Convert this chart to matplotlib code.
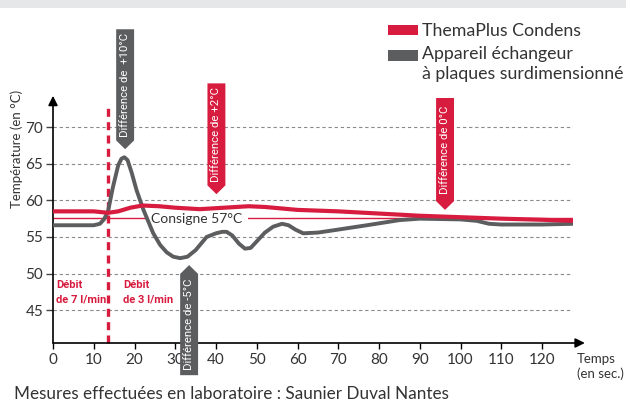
import matplotlib.pyplot as plt
from matplotlib.patches import Polygon, Rectangle

# data (time in s, temperature in °C)
thema_t = [0, 10, 13.5, 16, 19, 22, 26, 30, 36, 42, 48, 52, 60, 70, 80, 90, 100, 110, 120, 127.6]
thema_temp = [58.5, 58.5, 58.3, 58.5, 59.0, 59.3, 59.2, 59.0, 58.8, 59.0, 59.2, 59.1, 58.7, 58.5, 58.2,
              57.9, 57.7, 57.5, 57.35, 57.2]

plaque_t = [0, 10, 11.5, 12.5, 13.5, 14.7, 16, 16.8, 17.5, 18.3, 19.3, 20.5, 22.2, 24.6, 26.3, 27.9,
            29.5, 31.2, 33, 35, 37.7, 40, 41.5, 42.6, 44, 45.6, 47.1, 48.5, 50, 52, 54, 56.2, 57.8, 59.5,
            61.4, 65, 68.7, 77, 85, 90, 100, 104, 107, 110, 120, 127.6]
plaque_temp = [56.6, 56.6, 56.8, 57.4, 58.5, 61.8, 64.8, 65.7, 65.9, 65.5, 63.8, 61.4, 58.7, 55.5, 53.9,
               52.9, 52.3, 52.1, 52.3, 53.2, 55.0, 55.5, 55.7, 55.7, 55.2, 54.1, 53.4, 53.5, 54.4, 55.6,
               56.4, 56.8, 56.6, 56.0, 55.5, 55.6, 55.9, 56.6, 57.3, 57.5, 57.4, 57.2, 56.8, 56.7, 56.7,
               56.8]

consigne = 57.6
debit_switch = 13.4
x_ticks = list(range(0, 130, 10))
y_ticks = [45, 50, 55, 60, 65, 70]

RED = '#d81c3f'
GRAY = '#5c5d5f'
TXT = '#333333'

plt.rcParams['font.family'] = ['Lato', 'DejaVu Sans']
narrow = ['Liberation Sans Narrow', 'Roboto', 'DejaVu Sans']

fig = plt.figure(figsize=(6.26, 4.04), dpi=100)
ax = fig.add_axes([53 / 626, 61 / 404, 520 / 626, 245 / 404])
ax.set_xlim(0, 127.6)
ax.set_ylim(40.5, 74)
for s in ax.spines.values():
    s.set_visible(False)

ax.set_xticks(x_ticks)
ax.set_yticks(y_ticks)
ax.tick_params(axis='x', length=4, width=1, color='black', labelsize=11, labelcolor=TXT, pad=3)
ax.tick_params(axis='y', length=5, width=1, color='#444444', labelsize=11, labelcolor=TXT, pad=2)
ax.yaxis.grid(True, ls=(0, (3, 2.5)), color='#8a8a8a', lw=0.8)

# axes with arrows
ax.annotate('', xy=(130.5, 40.5), xytext=(0, 40.5), annotation_clip=False,
            arrowprops=dict(arrowstyle='-|>', color='black', lw=1.2, mutation_scale=14, shrinkA=0, shrinkB=0))
ax.annotate('', xy=(0, 74.3), xytext=(0, 40.5), annotation_clip=False,
            arrowprops=dict(arrowstyle='-|>', color='black', lw=1.2, mutation_scale=14, shrinkA=0, shrinkB=0))

# consigne line + label
ax.axhline(consigne, color=RED, lw=1.0, zorder=1)
ax.text(35.3, consigne - 0.15, 'Consigne 57°C', fontsize=10, color=TXT, ha='center', va='center',
        zorder=2, bbox=dict(boxstyle='square,pad=0.4', fc='white', ec='none'))

# flow change
ax.plot([debit_switch, debit_switch], [40.5, 73.1], color=RED, lw=2.4, dashes=(2.4, 1.6), zorder=2,
        clip_on=False)
ax.text(0.8, 47.45, 'Débit\nde 7 l/min', color=RED, fontsize=8, fontweight='bold', family=narrow,
        va='center', ha='left', linespacing=1.6)
ax.text(17.2, 47.45, 'Débit\nde 3 l/min', color=RED, fontsize=8, fontweight='bold', family=narrow,
        va='center', ha='left', linespacing=1.6)

ax.plot(thema_t, thema_temp, color=RED, lw=3.0, zorder=4, solid_joinstyle='round', solid_capstyle='butt')
ax.plot(plaque_t, plaque_temp, color=GRAY, lw=2.8, zorder=3, solid_joinstyle='round', solid_capstyle='butt')


def callout(x, tip, end, label, color):
    # vertical banner with a pointed end at `tip`, body extending to `end`
    w = 2.2
    h = 1.2 if end > tip else -1.2
    pts = [(x, tip), (x + w, tip + h), (x + w, end), (x - w, end), (x - w, tip + h)]
    ax.add_patch(Polygon(pts, closed=True, fc=color, ec='none', zorder=5, clip_on=False))
    ax.text(x, (tip + h + end) / 2, label, rotation=90, color='white', fontsize=8.2, family=narrow,
            ha='center', va='center', zorder=6, clip_on=False)


callout(17.7, 67.0, 83.4, 'Différence de  +10°C', GRAY)
callout(40.1, 60.85, 76.0, 'Différence de +2°C', RED)
callout(96.2, 58.7, 74.0, 'Différence de 0°C', RED)
callout(33.4, 51.15, 36.1, 'Différence de -5°C', GRAY)

ax.text(-8.8, 67.0, 'Température (en °C)', rotation=90, fontsize=9.5, color=TXT, ha='center', va='center')
ax.text(128.5, 37.3, 'Temps\n(en sec.)', fontsize=9.5, color=TXT, ha='left', va='center', linespacing=1.2)

# top band
fig.patches.append(Rectangle((0, 396 / 404), 1, 8 / 404, transform=fig.transFigure, fc='#e6e7e9',
                             ec='none'))

# legend
fig.patches.append(Rectangle((388 / 626, 369 / 404), 30 / 626, 10 / 404, transform=fig.transFigure,
                             fc=RED, ec='none'))
fig.patches.append(Rectangle((388 / 626, 343 / 404), 30 / 626, 11 / 404, transform=fig.transFigure,
                             fc=GRAY, ec='none'))
fig.text(422 / 626, 373 / 404, 'ThemaPlus Condens', fontsize=12.8, color=TXT, va='center', ha='left')
fig.text(422 / 626, 350 / 404, 'Appareil échangeur', fontsize=12.8, color=TXT, va='center', ha='left')
fig.text(422 / 626, 330 / 404, 'à plaques surdimensionné', fontsize=12.8, color=TXT, va='center', ha='left')

fig.text(14 / 626, 10 / 404, 'Mesures effectuées en laboratoire : Saunier Duval Nantes', fontsize=12.3,
         color=TXT, va='center', ha='left')

fig.savefig('out.png', dpi=100, facecolor='white')
